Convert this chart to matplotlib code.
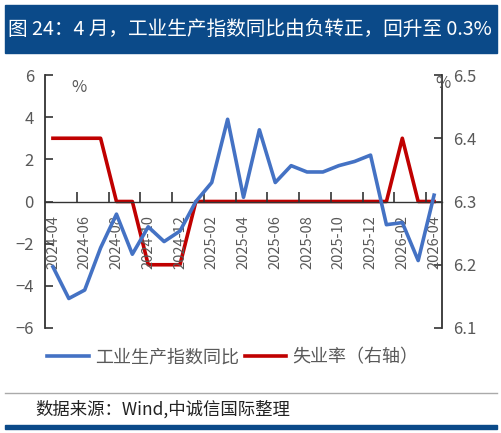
import matplotlib.pyplot as plt
import numpy as np

plt.rcParams['font.family'] = ['Noto Sans CJK SC', 'DejaVu Sans']

months = ['2024-04', '2024-05', '2024-06', '2024-07', '2024-08', '2024-09', '2024-10',
          '2024-11', '2024-12', '2025-01', '2025-02', '2025-03', '2025-04', '2025-05',
          '2025-06', '2025-07', '2025-08', '2025-09', '2025-10', '2025-11', '2025-12',
          '2026-01', '2026-02', '2026-03', '2026-04']
ip_yoy = [-3.1, -4.6, -4.2, -2.2, -0.6, -2.5, -1.2, -1.9, -1.4, 0.0, 0.9, 3.9, 0.2,
          3.4, 0.9, 1.7, 1.4, 1.4, 1.7, 1.9, 2.2, -1.1, -1.0, -2.8, 0.3]
unemp = [6.4, 6.4, 6.4, 6.4, 6.3, 6.3, 6.2, 6.2, 6.2, 6.3, 6.3, 6.3, 6.3,
         6.3, 6.3, 6.3, 6.3, 6.3, 6.3, 6.3, 6.3, 6.3, 6.4, 6.3, 6.3]

blue = '#4472C4'
red = '#C00000'
gray = '#595959'
navy = '#0B4A89'

W, H = 502, 433
fig = plt.figure(figsize=(W / 100, H / 100), dpi=100)

# title bar
fig.patches.append(plt.Rectangle((5 / W, 1 - 53 / H), 492 / W, 48 / H,
                                 transform=fig.transFigure, color=navy, zorder=0))
title = fig.text(8 / W, 1 - 29 / H, '图 24：4 月，工业生产指数同比由负转正，回升至 0.3%',
                 color='white', fontsize=14.5, va='center', ha='left')
r = fig.canvas.get_renderer()
tw = title.get_window_extent(r).width
title.set_fontsize(14.5 * 484 / tw)

ax = fig.add_axes([45 / W, 1 - 328 / H, 397 / W, 253 / H])
ax2 = ax.twinx()

x = np.arange(len(months))
ax.plot(x, ip_yoy, color=blue, lw=2.6, zorder=3)
ax2.plot(x, unemp, color=red, lw=2.6, zorder=2)

ax.set_ylim(-6, 6)
ax.set_yticks(range(-6, 7, 2))
ax2.set_ylim(6.1, 6.5)
ax2.set_yticks([6.1, 6.2, 6.3, 6.4, 6.5])
ax2.set_yticklabels(['6.1', '6.2', '6.3', '6.4', '6.5'])
ax.set_xlim(-0.5, len(months) - 0.5)

ax.set_zorder(ax2.get_zorder() + 1)
ax.patch.set_visible(False)

ax.spines['top'].set_visible(False)
ax2.spines['top'].set_visible(False)
ax.spines['right'].set_visible(False)
ax2.spines['left'].set_visible(False)
ax2.spines['bottom'].set_visible(False)
ax.spines['bottom'].set_position(('data', 0))
ax.spines['bottom'].set_color('#333333')
ax.spines['bottom'].set_linewidth(1.0)
ax.spines['left'].set_color('#333333')
ax.spines['left'].set_linewidth(1.3)
ax2.spines['right'].set_color('#333333')
ax2.spines['right'].set_linewidth(1.3)

ax.tick_params(axis='y', direction='in', length=6, width=1.2, colors='#333333',
               labelcolor=gray, labelsize=12, pad=8)
ax2.tick_params(axis='y', direction='in', length=6, width=1.2, colors='#333333',
                labelcolor=gray, labelsize=12, pad=8)

# x ticks: labels every two months, tick marks between categories
ax.set_xticks(x[::2])
ax.set_xticklabels(months[::2], rotation=90, va='top', ha='center')
ax.tick_params(axis='x', which='major', length=0, labelsize=10.5, labelcolor=gray, pad=10)
ax.set_xticks(np.arange(1.5, len(months) - 1, 2), minor=True)
ax.tick_params(axis='x', which='minor', direction='in', length=7, width=1.2, colors='#333333')

fig.text(79 / W, 1 - 87 / H, '%', color=gray, fontsize=12, ha='center', va='center')
fig.text(443 / W, 1 - 83 / H, '%', color=gray, fontsize=12, ha='center', va='center')

# legend
fig.legend(handles=[plt.Line2D([], [], color=blue, lw=2.6),
                    plt.Line2D([], [], color=red, lw=2.6)],
           labels=['工业生产指数同比', '失业率（右轴）'],
           loc='center left', bbox_to_anchor=(31 / W, 1 - 357 / H), ncol=2,
           frameon=False, fontsize=13, handlelength=2.3, handletextpad=0.35,
           columnspacing=0.3, labelcolor=gray)

# footer
fig.add_artist(plt.Line2D([5 / W, 497 / W], [1 - 393 / H, 1 - 393 / H],
                          transform=fig.transFigure, color='#aaaaaa', lw=1))
fig.text(35 / W, 1 - 409 / H, '数据来源：Wind,中诚信国际整理', fontsize=12.5,
         color='#222222', va='center', ha='left')
fig.patches.append(plt.Rectangle((5 / W, 1 - 429 / H), 492 / W, 4 / H,
                                 transform=fig.transFigure, color=navy))

fig.savefig('out.png', dpi=100)
